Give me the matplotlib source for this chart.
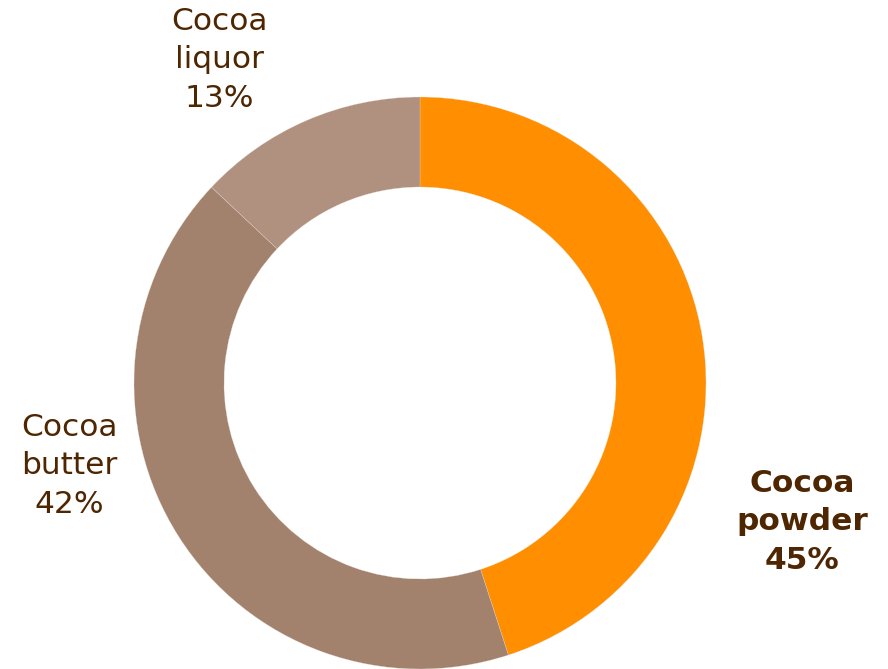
import matplotlib.pyplot as plt

# data
labels = ['Cocoa\npowder', 'Cocoa\nbutter', 'Cocoa\nliquor']
shares = [45, 42, 13]
colors = ['#FF8F00', '#A3826D', '#B0917F']

text_color = '#4F2602'

fig = plt.figure(figsize=(8.88, 6.69), dpi=100)
ax = fig.add_axes([0, 0, 1, 1])

wedges, _ = ax.pie(shares, colors=colors, startangle=90, counterclock=False,
                   center=(420, 286), radius=286, frame=True,
                   wedgeprops=dict(width=90, edgecolor='#E8DCD4', linewidth=0.2))
ax.set_xlim(0, 888)
ax.set_ylim(0, 669)
ax.set_aspect('equal')
ax.axis('off')

# label positions (pixel coords, y from bottom)
label_pos = [(802, 147), (69, 203), (219, 609)]
for i, (lab, s) in enumerate(zip(labels, shares)):
    x, y = label_pos[i]
    ax.text(x, y, f'{lab}\n{s}%', ha='center', va='center',
            fontsize=22.5, color=text_color, linespacing=1.42,
            fontweight='bold' if i == 0 else 'normal')

fig.savefig('out.png', dpi=100)
